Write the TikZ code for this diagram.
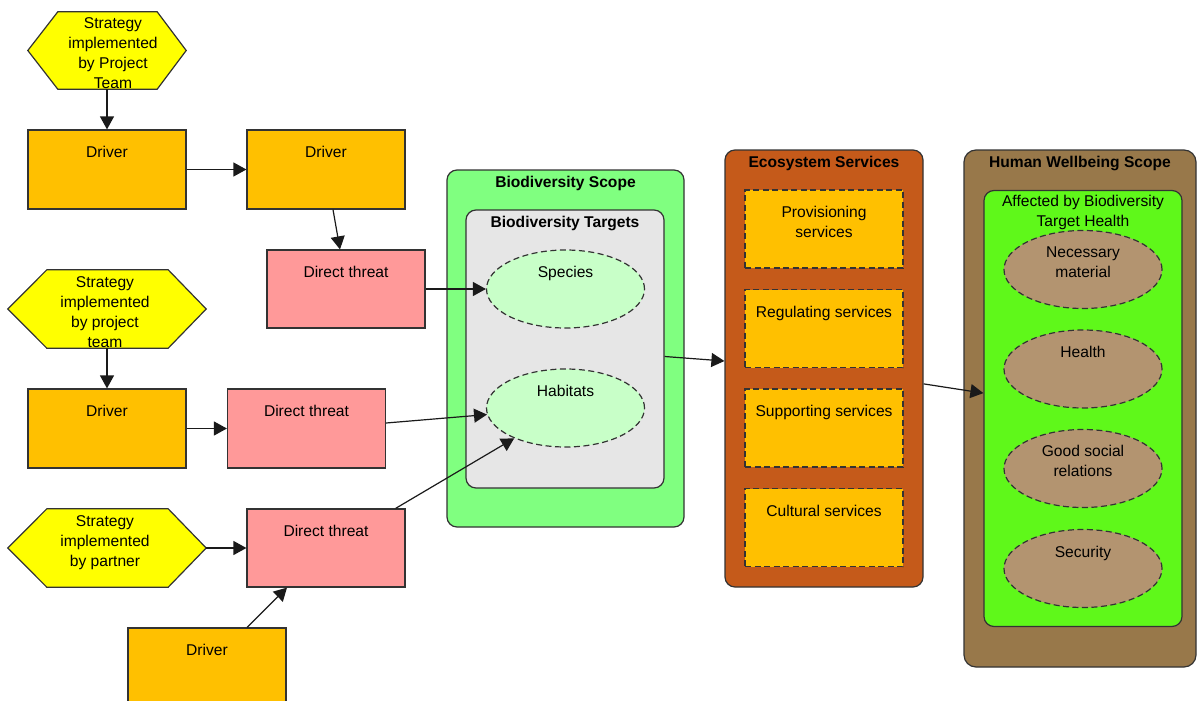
\documentclass[tikz,border=0pt]{standalone}
\usepackage{fontspec}
\setmainfont{Liberation Sans}
\usetikzlibrary{arrows.meta,calc,shapes.geometric}

\definecolor{hexyellow}{HTML}{FFFF00}
\definecolor{driverfill}{HTML}{FFC000}
\definecolor{threatfill}{HTML}{FF9999}
\definecolor{bioscope}{HTML}{80FF80}
\definecolor{targetfill}{HTML}{E6E6E6}
\definecolor{bioell}{HTML}{C8FFC8}
\definecolor{ecofill}{HTML}{C55A1A}
\definecolor{servfill}{HTML}{FFC000}
\definecolor{hwfill}{HTML}{98784A}
\definecolor{affectfill}{HTML}{5FF81A}
\definecolor{hwell}{HTML}{B39470}
\definecolor{edge}{HTML}{333333}
\definecolor{wire}{HTML}{1A1A1A}

\tikzset{
  box/.style={draw=edge, line width=1.2pt, inner sep=0pt,
              minimum width=158pt, minimum height=79pt},
  driver/.style={box, fill=driverfill},
  threat/.style={box, fill=threatfill},
  hexarea/.style={inner sep=0pt, minimum height=78pt},
  hexfill/.style={draw=edge, line width=1.2pt, fill=hexyellow},
  scope/.style={draw=edge, line width=1.2pt, rounded corners=10pt, inner sep=0pt},
  dashy/.style={dash pattern=on 6pt off 3.5pt},
  target/.style={ellipse, draw=edge, dashy, line width=1.2pt, inner sep=0pt,
                 minimum width=158pt, minimum height=78pt},
  service/.style={box, fill=servfill, dashy, minimum height=78pt},
  txt/.style={anchor=north, inner sep=0pt, align=center, yshift=-1.5pt,
              execute at begin node={\rule{0pt}{15pt}}},
  multi/.style={yshift=-3.5pt},
  ttl/.style={txt, font=\fontsize{15.6}{20}\selectfont\bfseries},
  arr/.style={draw=wire, line width=1.2pt, -{Triangle[length=13pt,width=14pt]}},
}

\begin{document}
\begin{tikzpicture}[x=1pt, y=-1pt, font=\fontsize{15.6}{20}\selectfont]
\useasboundingbox (0,0) rectangle (1197,701);
\clip (0,0) rectangle (1197,701);

% ---------- Biodiversity scope ----------
\node[scope, fill=bioscope, minimum width=237pt, minimum height=357pt] (bioscope) at (565.5,348.5) {};
\node[ttl] (bioscopet) at ($(bioscope.north)+(0,1.5)$) {Biodiversity Scope};
\node[scope, fill=targetfill, minimum width=198pt, minimum height=278pt] (targets) at (565,349) {};
\node[ttl] (targetst) at ($(targets.north)+(0,1.5)$) {Biodiversity Targets};
\node[target, fill=bioell] (species) at (565.5,289) {};
\node[txt] (speciest) at ($(species.north)+(0,11.5)$) {Species};
\node[target, fill=bioell] (habitats) at (565.5,408) {};
\node[txt] (habitatst) at ($(habitats.north)+(0,11.5)$) {Habitats};

% ---------- Ecosystem services ----------
\node[scope, fill=ecofill, minimum width=198pt, minimum height=437pt] (eco) at (824,368.5) {};
\node[ttl] (ecot) at ($(eco.north)+(0,1.5)$) {Ecosystem Services};
\node[service] (prov) at (824,229) {};
\node[txt, multi] (provt) at ($(prov.north)+(0,11.5)$) {Provisioning\\services};
\node[service] (reg) at (824,328.5) {};
\node[txt] (regt) at ($(reg.north)+(0,11.5)$) {Regulating services};
\node[service] (sup) at (824,428) {};
\node[txt] (supt) at ($(sup.north)+(0,11.5)$) {Supporting services};
\node[service] (cult) at (824,527.5) {};
\node[txt] (cultt) at ($(cult.north)+(0,11.5)$) {Cultural services};

% ---------- Human wellbeing scope ----------
\node[scope, rounded corners=12pt, fill=hwfill, minimum width=232pt, minimum height=517pt] (hw) at (1080,408.5) {};
\node[ttl] (hwt) at ($(hw.north)+(0,1.5)$) {Human Wellbeing Scope};
\node[scope, fill=affectfill, minimum width=198pt, minimum height=436pt] (affected) at (1083,408.5) {};
\node[txt, multi] (affectedt) at ($(affected.north)+(0,0.5)$) {Affected by Biodiversity\\Target Health};
\node[target, fill=hwell] (need) at (1083,269.5) {};
\node[txt, multi] (needt) at ($(need.north)+(0,11.5)$) {Necessary\\material};
\node[target, fill=hwell] (health) at (1083,369) {};
\node[txt] (healtht) at ($(health.north)+(0,11.5)$) {Health};
\node[target, fill=hwell] (social) at (1083,468.5) {};
\node[txt, multi] (socialt) at ($(social.north)+(0,11.5)$) {Good social\\relations};
\node[target, fill=hwell] (security) at (1083,568.5) {};
\node[txt] (securityt) at ($(security.north)+(0,11.5)$) {Security};

% ---------- Strategies (hexagons) ----------
\node[hexarea, minimum width=158pt, minimum height=77pt] (h1) at (107,50.5) {};
\path[hexfill] (h1.west) -- ($(h1.north west)+(30,0)$) -- ($(h1.north east)+(-29,0)$)
  -- (h1.east) -- ($(h1.south east)+(-29,0)$) -- ($(h1.south west)+(30,0)$) -- cycle;
\node[txt, multi] (h1t) at (113,12.5) {Strategy\\implemented\\by Project\\Team};

\node[hexarea, minimum width=198pt] (h2) at (107,309) {};
\path[hexfill] (h2.west) -- ($(h2.north west)+(39,0)$) -- ($(h2.north east)+(-38,0)$)
  -- (h2.east) -- ($(h2.south east)+(-38,0)$) -- ($(h2.south west)+(39,0)$) -- cycle;
\node[txt, multi] (h2t) at (105,271.5) {Strategy\\implemented\\by project\\team};

\node[hexarea, minimum width=198pt] (h3) at (107,548) {};
\path[hexfill] (h3.west) -- ($(h3.north west)+(39,0)$) -- ($(h3.north east)+(-38,0)$)
  -- (h3.east) -- ($(h3.south east)+(-38,0)$) -- ($(h3.south west)+(39,0)$) -- cycle;
\node[txt, multi] (h3t) at (105,510) {Strategy\\implemented\\by partner};

% ---------- Drivers and direct threats ----------
\node[driver] (d1) at (107,169.5) {};
\node[txt] (d1t) at ($(d1.north)+(0,11.5)$) {Driver};
\node[driver] (d2) at (326,169.5) {};
\node[txt] (d2t) at ($(d2.north)+(0,11.5)$) {Driver};
\node[threat, minimum height=78pt] (t1) at (346,289) {};
\node[txt] (t1t) at ($(t1.north)+(0,11.5)$) {Direct threat};
\node[driver] (d3) at (107,428.5) {};
\node[txt] (d3t) at ($(d3.north)+(0,11.5)$) {Driver};
\node[threat] (t2) at (306.5,428.5) {};
\node[txt] (t2t) at ($(t2.north)+(0,11.5)$) {Direct threat};
\node[threat, minimum height=78pt] (t3) at (326,548) {};
\node[txt] (t3t) at ($(t3.north)+(0,11.5)$) {Direct threat};
\node[driver] (d4) at (207,667.5) {};
\node[txt] (d4t) at ($(d4.north)+(0,11.5)$) {Driver};

% ---------- Connectors ----------
\draw[arr] (h1.south) -- (d1.north);
\draw[arr] (d1.east) -- (d2.west);
\draw[arr] ($(d2.south)+(7,0)$) -- ($(t1.north)+(-6,0)$);
\draw[arr] (t1.east) -- (species.west);
\draw[arr] (h2.south) -- (d3.north);
\draw[arr] (d3.east) -- (t2.west);
\draw[arr] ($(t2.east)+(0,-5.5)$) -- (habitats);
\draw[arr] (h3.east) -- (t3.west);
\draw[arr] ($(t3.north east)+(-10,0)$) -- (habitats);
\draw[arr] ($(d4.north)+(40,0)$) -- ($(t3.south)+(-39,0)$);
\draw[arr] (targets) -- (eco);
\draw[arr] (eco) -- (affected);
\end{tikzpicture}
\end{document}
